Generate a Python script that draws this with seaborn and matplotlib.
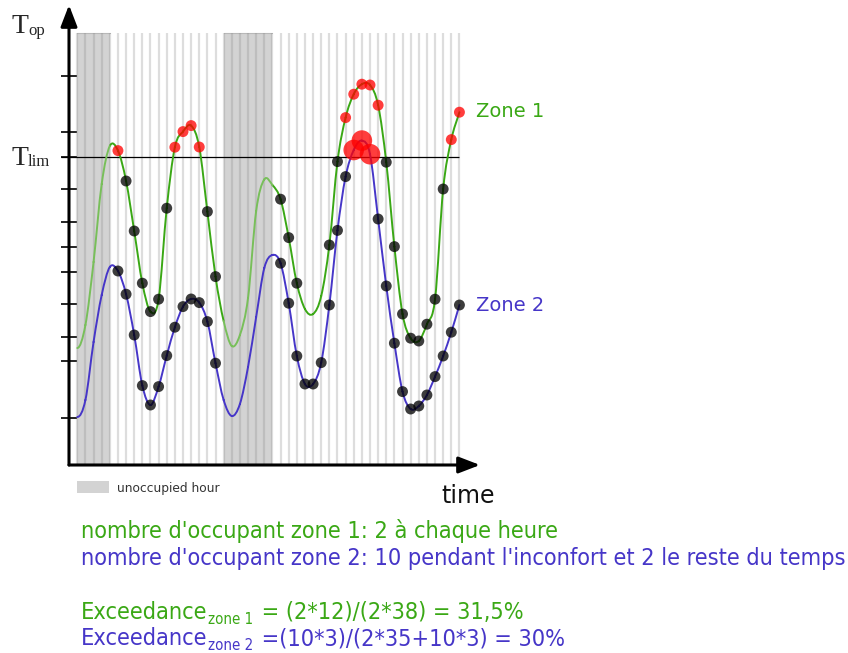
import numpy as np
import pandas as pd
import matplotlib.pyplot as plt
import seaborn as sns
from matplotlib.path import Path
from matplotlib.patches import PathPatch, Rectangle
from matplotlib import font_manager

# hourly operative temperature of both zones (hour 0 .. 47)
hours = list(range(48))
zone1_temp = [16.45, 17.6, 20.75, 24.65, 26.55, 26.32, 24.8, 22.3, 19.69, 18.27,
              18.89, 23.44, 26.49, 27.27, 27.57, 26.5, 23.27, 20.02, 17.8, 16.55,
              17.1, 18.95, 23.3, 24.88, 24.6, 23.89, 21.97, 19.69, 18.4, 18.15,
              19.05, 21.6, 25.77, 27.97, 29.14, 29.64, 29.6, 28.59, 25.74, 21.52,
              18.15, 16.94, 16.8, 17.64, 18.89, 24.4, 26.87, 28.24]
zone2_temp = [13.0, 13.85, 16.75, 19.1, 20.5, 20.3, 19.14, 17.1, 14.57, 13.6,
              14.52, 16.07, 17.49, 18.52, 18.9, 18.72, 17.77, 15.69, 13.85, 13.05,
              13.65, 15.5, 18.0, 20.45, 21.1, 20.69, 18.69, 16.05, 14.65, 14.65,
              15.72, 18.6, 22.33, 25.02, 26.35, 26.82, 26.14, 22.9, 19.55, 16.69,
              14.27, 13.4, 13.55, 14.1, 15.02, 16.05, 17.24, 18.6]
t_lim = 26.0
y_ticks = [30.03, 27.23, 26.0, 24.4, 22.75, 21.5, 20.25, 18.65, 17.0, 15.8, 12.95]
unoccupied = [(0, 4), (18, 24)]
zone1_point_hours = list(range(5, 18)) + [25, 26, 27] + list(range(31, 48))
zone2_point_hours = list(range(5, 18)) + list(range(25, 48))

green = '#3aa815'
green_light = '#78bf5a'
blue = '#4636c8'
W, H = 848, 653

sns.set_theme(style='white')
plt.rcParams['font.family'] = ['DejaVu Sans']


def smooth_path(x, y, keep):
    # cubic bezier through the hourly values (catmull-rom tangents, flat start)
    x = np.asarray(x, float)
    y = np.asarray(y, float)
    m = np.gradient(y, x)
    m[0] = 0.0
    verts, codes = [], []
    for i in range(len(x) - 1):
        if not keep(i):
            continue
        h = x[i + 1] - x[i]
        verts += [(x[i], y[i]), (x[i] + h / 3, y[i] + m[i] * h / 3),
                  (x[i + 1] - h / 3, y[i + 1] - m[i + 1] * h / 3), (x[i + 1], y[i + 1])]
        codes += [Path.MOVETO, Path.CURVE4, Path.CURVE4, Path.CURVE4]
    return Path(verts, codes)


def is_unocc(i):
    return any(a <= i < b for a, b in unoccupied)


fig = plt.figure(figsize=(W / 100, H / 100), dpi=100)
ax = fig.add_axes([69 / W, (H - 465) / H, 411 / W, 460 / H])
ax.set_xlim(-1.02, 49.53)
ax.set_ylim(10.6, 33.6)
shade_top = 32.2

for a, b in unoccupied:
    ax.fill_between([a, b], 10.6, shade_top, color='#d3d3d3', lw=0, zorder=0.5)
    ax.plot([a, b], [shade_top, shade_top], color='#b8b8b8', lw=0.8, zorder=0.6)
ax.vlines(hours, 10.6, shade_top, color='#888888', alpha=0.28, lw=1.6, zorder=1)
ax.hlines(t_lim, -2.0, hours[-1], color='black', lw=0.9, zorder=2, clip_on=False)

ax.add_patch(PathPatch(smooth_path(hours, zone1_temp, lambda i: not is_unocc(i)),
                       fc='none', ec=green, lw=1.4, capstyle='round', zorder=3))
ax.add_patch(PathPatch(smooth_path(hours, zone1_temp, is_unocc),
                       fc='none', ec=green_light, lw=1.4, capstyle='round', zorder=3))
ax.add_patch(PathPatch(smooth_path(hours, zone2_temp, lambda i: True),
                       fc='none', ec=blue, lw=1.4, capstyle='round', zorder=3))

# hourly points: red when above T_lim, zone 2 has 10 occupants during discomfort
rows = []
for zone, temps, pts in [('Zone 1', zone1_temp, zone1_point_hours),
                         ('Zone 2', zone2_temp, zone2_point_hours)]:
    for h in pts:
        hot = temps[h] > t_lim
        occ = 10 if (zone == 'Zone 2' and hot) else 2
        rows.append({'zone': zone, 'hour': h, 'temp': temps[h], 'hot': hot, 'occupants': occ})
df = pd.DataFrame(rows)
sns.scatterplot(data=df, x='hour', y='temp', hue='hot', palette={False: 'black', True: 'red'},
                size='occupants', sizes={2: 62, 10: 220}, alpha=0.76, linewidth=0,
                legend=False, ax=ax, zorder=5)

for s in ax.spines.values():
    s.set_visible(False)
ax.set_xlabel('')
ax.set_ylabel('')
ax.set_xticks([])
ax.set_yticks(y_ticks)
ax.tick_params(axis='y', left=True, labelleft=False, direction='inout',
               length=11.5, width=1.2, colors='black')
arrow = dict(arrowstyle='-|>,head_length=0.65,head_width=0.25', mutation_scale=20,
             lw=2.2, color='black', shrinkA=0, shrinkB=0)
ax.annotate('', xy=(1, 0), xytext=(0, 0), xycoords='axes fraction', arrowprops=arrow)
ax.annotate('', xy=(0, 1), xytext=(0, 0), xycoords='axes fraction', arrowprops=arrow)

# axis labels
serif = 'Liberation Serif'
fig.text(12 / W, 1 - 33 / H, 'T', family=serif, fontsize=20, va='baseline')
fig.text(28 / W, 1 - 35 / H, 'op', family=serif, fontsize=12, va='baseline')
fig.text(12 / W, 1 - 165 / H, 'T', family=serif, fontsize=20, va='baseline')
fig.text(28 / W, 1 - 166 / H, 'lim', family=serif, fontsize=12, va='baseline')
fig.text(476 / W, 1 - 117 / H, 'Zone 1', fontsize=14, color=green, va='baseline')
fig.text(476 / W, 1 - 311 / H, 'Zone 2', fontsize=14, color=blue, va='baseline')
fig.text(441 / W, 1 - 503 / H, 'time', fontsize=17, color='#111111', va='baseline')
fig.add_artist(Rectangle((77 / W, 1 - 493 / H), 32 / W, 12 / H,
                         transform=fig.transFigure, color='#d3d3d3', lw=0))
fig.text(117 / W, 1 - 492 / H, 'unoccupied hour', fontsize=8.8, color='#333333', va='baseline')

# notes under the chart
cond = font_manager.FontProperties(family='DejaVu Sans', stretch='condensed')
has_cond = 'Condensed' in font_manager.findfont(cond)
if has_cond:
    body = dict(family='DejaVu Sans', stretch='condensed', fontsize=16.8)
    sub = dict(family='DejaVu Sans', stretch='condensed', fontsize=10.8)
else:
    body = dict(family='DejaVu Sans', fontsize=15.2)
    sub = dict(family='DejaVu Sans', fontsize=9.7)

fig.text(81 / W, 1 - 538 / H, "nombre d'occupant zone 1: 2 à chaque heure",
         color=green, va='baseline', **body)
fig.text(81 / W, 1 - 565 / H, "nombre d'occupant zone 2: 10 pendant l'inconfort et 2 le reste du temps",
         color=blue, va='baseline', **body)


def exceed_line(y_px, zone_sub, rest, color):
    t1 = fig.text(81 / W, 1 - y_px / H, 'Exceedance', color=color, va='baseline', **body)
    t2 = ax.annotate(zone_sub, xy=(1, 0), xycoords=t1, xytext=(0.5, 0),
                     textcoords='offset points', color=color, va='baseline', **sub)
    ax.annotate(rest, xy=(1, 0), xycoords=(t2, t1), xytext=(1, 0),
                textcoords='offset points', color=color, va='bottom', **body)


exceed_line(619, 'zone 1', ' = (2*12)/(2*38) = 31,5%', green)
exceed_line(645, 'zone 2', ' =(10*3)/(2*35+10*3) = 30%', blue)

fig.savefig('out.png', dpi=100)
